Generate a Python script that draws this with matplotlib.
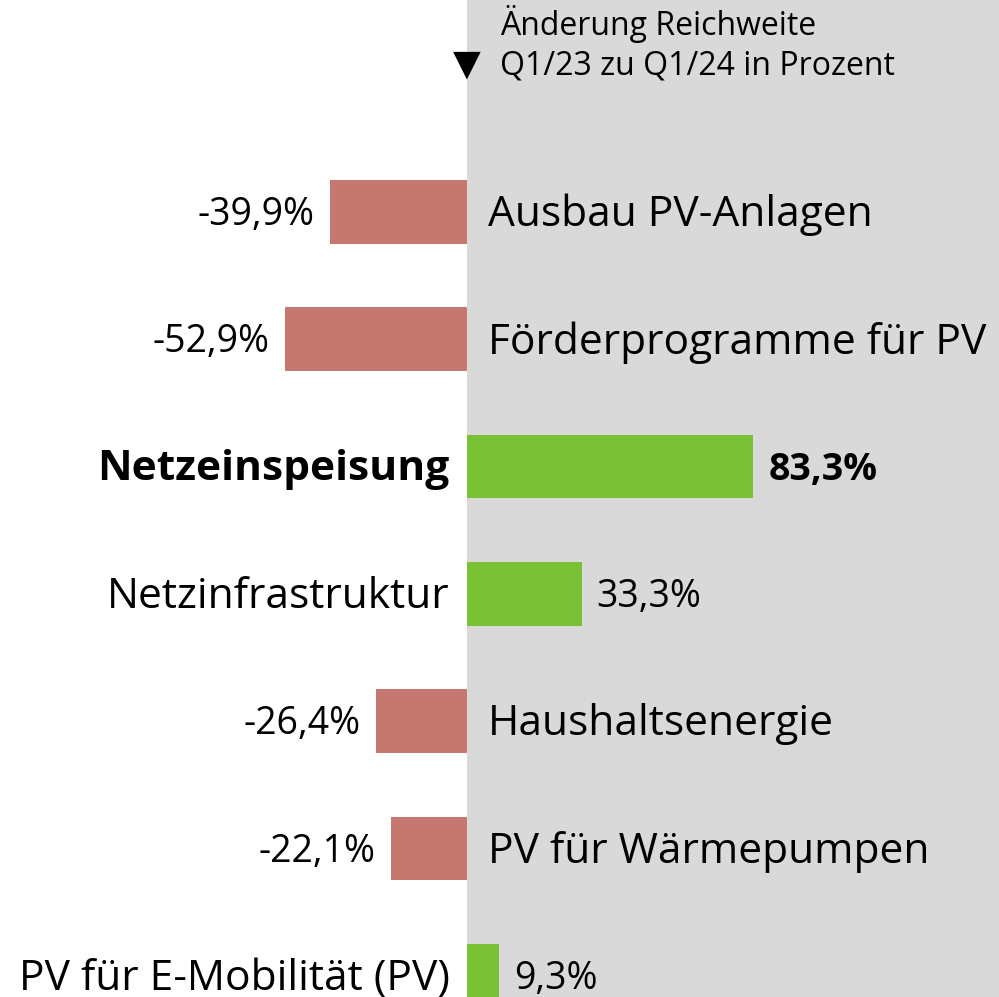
import matplotlib.pyplot as plt
from matplotlib.patches import Rectangle

categories = ["Ausbau PV-Anlagen", "Förderprogramme für PV", "Netzeinspeisung",
              "Netzinfrastruktur", "Haushaltsenergie", "PV für Wärmepumpen",
              "PV für E-Mobilität (PV)"]
changes = [-39.9, -52.9, 83.3, 33.3, -26.4, -22.1, 9.3]
highlight = "Netzeinspeisung"
header_lines = ["Änderung Reichweite", "Q1/23 zu Q1/24 in Prozent"]

RED = "#C57870"
GREEN = "#7BC135"
GREY = "#D9D9D9"

plt.rcParams["font.family"] = ["Open Sans", "DejaVu Sans"]

fig = plt.figure(figsize=(9.99, 9.97), dpi=100)
ax = fig.add_axes([0, 0, 1, 1])
ax.set_xlim(-135.8, 154.7)
ax.set_ylim(6.166, -1.665)
ax.axis("off")

# grey panel right of zero line
ax.add_patch(Rectangle((0, -5), 500, 20, facecolor=GREY, edgecolor="none", zorder=0))

ypos = list(range(len(categories)))
colors = [GREEN if v > 0 else RED for v in changes]
ax.barh(ypos, changes, height=0.5, color=colors, zorder=2)

dy = 0.025  # text sits a touch below bar centre
for y, cat, v in zip(ypos, categories, changes):
    weight = "bold" if cat == highlight else "normal"
    txt = f"{v:.1f}".replace(".", ",") + "%"
    if v < 0:
        ax.text(v - 4.4, y + dy, txt, ha="right", va="center", fontsize=27, fontweight=weight)
        ax.text(6.1, y + dy, cat, ha="left", va="center", fontsize=30.6, fontweight=weight)
    else:
        ax.text(v + 4.4, y + dy, txt, ha="left", va="center", fontsize=27, fontweight=weight)
        ax.text(-5, y + dy, cat, ha="right", va="center", fontsize=30.6, fontweight=weight)

# header
ax.text(9.6, -1.39, header_lines[0], ha="left", va="baseline", fontsize=23)
ax.text(9.6, -1.076, header_lines[1], ha="left", va="baseline", fontsize=23)
ax.text(0, -1.154, "▼", ha="center", va="center", fontsize=26,
        family=["DejaVu Sans"])

fig.savefig("out.png", dpi=100)
